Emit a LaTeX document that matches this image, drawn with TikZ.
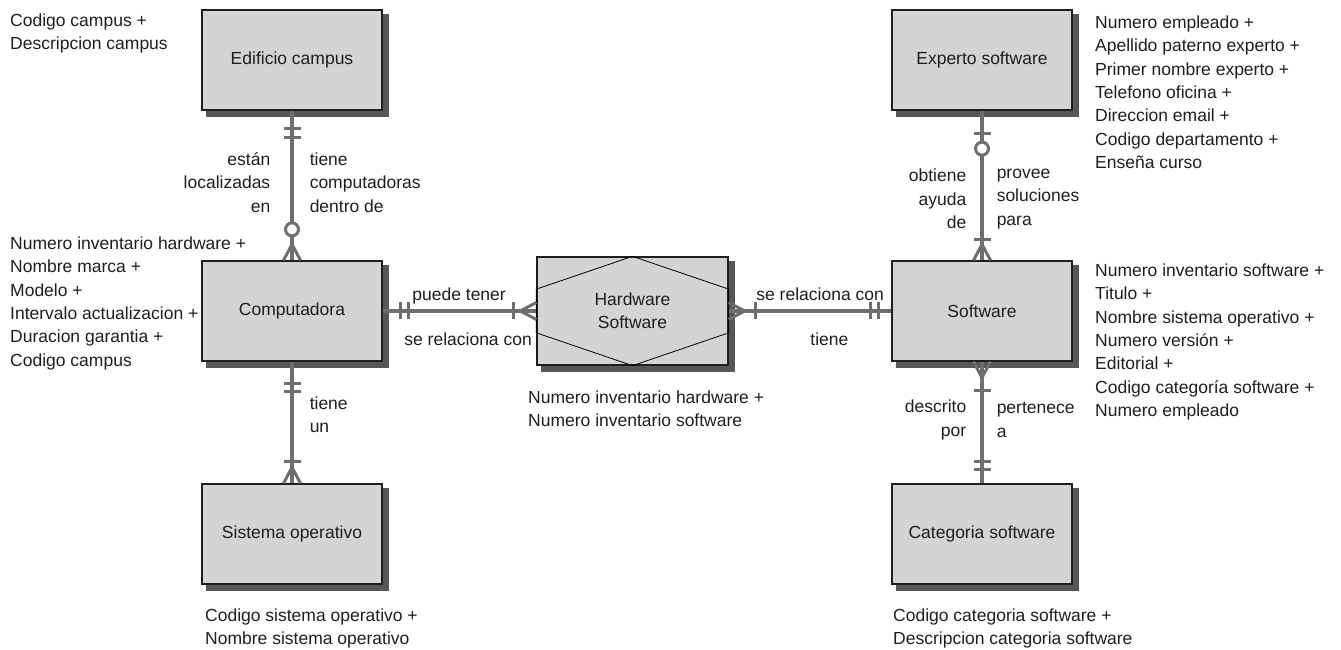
\documentclass[tikz,border=0pt]{standalone}
\usepackage{fontspec}
\setmainfont{Liberation Sans}
\usetikzlibrary{positioning, calc}

\definecolor{linegray}{HTML}{6E6E6E}
\definecolor{boxgray}{HTML}{D4D4D4}
\definecolor{inkgray}{HTML}{1E1E1E}
\definecolor{shadowgray}{HTML}{575757}

\begin{document}
\begin{tikzpicture}[
    x=1pt, y=1pt,
    font=\fontsize{17.5}{23.3}\selectfont,
    every node/.style={text=inkgray},
    entity/.style={
        rectangle,
        minimum width=180pt,
        minimum height=100pt,
        align=center,
        fill=boxgray,
        draw=inkgray,
        line width=1.3pt
    },
    boxshadow/.style={draw=shadowgray, line width=5.5pt},
    attr/.style={align=left, inner sep=0pt, anchor=north west},
    verb/.style={inner sep=0pt},
    rel/.style={draw=linegray, line width=3.5pt},
    sym/.style={draw=linegray, line width=3pt},
    onebar/.pic={\draw[sym] (0,-8.5) -- (0,8.5);},
    ring/.pic={\draw[sym, fill=white] (0,0) circle (6.5);},
    crowfoot/.pic={\draw[sym] (16,8.5) -- (0,0) -- (16,-8.5);}
]
\useasboundingbox (0,0) rectangle (1341,650);

% entities
\node[entity] (edificio) at (292,590) {Edificio campus};
\node[entity] (comp) at (292,339) {Computadora};
\node[entity] (sistop) at (292,116) {Sistema operativo};
\node[entity, minimum width=191pt, minimum height=108pt] (hwsw) at (632.5,339) {Hardware\\Software};
\node[entity] (experto) at (982,590) {Experto software};
\node[entity] (software) at (982,339) {Software};
\node[entity] (categoria) at (982,116) {Categoria software};

% shadows along the right and lower edges
\foreach \n in {edificio, comp, sistop, hwsw, experto, software, categoria}
    \draw[boxshadow] ($(\n.north east)+(3.4,-5)$) -- ($(\n.south east)+(3.4,-3.4)$)
        -- ($(\n.south west)+(5,-3.4)$);

% hexagon of the associative entity
\draw[black, line width=0.8pt]
    (hwsw.north) -- ($(hwsw.north west)!0.3!(hwsw.south west)$)
    -- ($(hwsw.north west)!0.7!(hwsw.south west)$) -- (hwsw.south)
    -- ($(hwsw.north east)!0.7!(hwsw.south east)$)
    -- ($(hwsw.north east)!0.3!(hwsw.south east)$) -- cycle;

% attributes
\node[attr] (edificioattr) at (10,636.3) {Codigo campus +\\Descripcion campus};
\node[attr] (compattr) at (10,413.3) {Numero inventario hardware +\\Nombre marca +\\Modelo +\\Intervalo actualizacion +\\Duracion garantia +\\Codigo campus};
\node[attr] (sistopattr) at (205,41.3) {Codigo sistema operativo +\\Nombre sistema operativo};
\node[attr] (hwswattr) at (528,259.3) {Numero inventario hardware +\\Numero inventario software};
\node[attr] (expertoattr) at (1095,634.3) {Numero empleado +\\Apellido paterno experto +\\Primer nombre experto +\\Telefono oficina +\\Direccion email +\\Codigo departamento +\\Enseña curso};
\node[attr] (softattr) at (1095,386.3) {Numero inventario software +\\Titulo +\\Nombre sistema operativo +\\Numero versión +\\Editorial +\\Codigo categoría software +\\Numero empleado};
\node[attr] (categattr) at (893,41.3) {Codigo categoria software +\\Descripcion categoria software};

% relationships
\draw[rel] (edificio) --
    node[verb, pos=.48, left=20pt, align=right] {están\\localizadas\\en}
    node[verb, pos=.48, right=16pt, align=left] {tiene\\computadoras\\dentro de} (comp);
\draw[rel] (comp) --
    node[verb, pos=.435, right=16pt, align=left] {tiene\\un} (sistop);
\draw[rel] (comp) --
    node[verb, pos=0, anchor=base west, xshift=28pt, yshift=10pt] {puede tener}
    node[verb, pos=0, anchor=base west, xshift=20pt, yshift=-35pt] {se relaciona con} (hwsw);
\draw[rel] (hwsw) --
    node[verb, pos=0, anchor=base west, xshift=26pt, yshift=10pt] {se relaciona con}
    node[verb, pos=0, anchor=base west, xshift=80pt, yshift=-35pt] {tiene} (software);
\draw[rel] (experto) --
    node[verb, pos=.59, left=14pt, align=right] {obtiene\\ayuda\\de}
    node[verb, pos=.59, right=13pt, align=left] {provee\\soluciones\\para} (software);
\draw[rel] (software) --
    node[verb, pos=.48, left=14pt, align=right] {descrito\\por}
    node[verb, pos=.48, right=13pt, align=left] {pertenece\\a} (categoria);

% cardinality marks
\pic[rotate=90] at ($(edificio.south)+(0,-18)$) {onebar};
\pic[rotate=90] at ($(edificio.south)+(0,-27)$) {onebar};
\pic at ($(comp.north)+(0,31)$) {ring};
\pic[rotate=-90] at ($(comp.north)+(0,16)$) {crowfoot};

\pic[rotate=90] at ($(comp.south)+(0,-22)$) {onebar};
\pic[rotate=90] at ($(comp.south)+(0,-30)$) {onebar};
\pic[rotate=90] at ($(sistop.north)+(0,22)$) {onebar};
\pic[rotate=-90] at ($(sistop.north)+(0,16)$) {crowfoot};

\pic at ($(comp.east)+(18,0)$) {onebar};
\pic at ($(comp.east)+(26,0)$) {onebar};
\pic at ($(hwsw.west)+(-23,0)$) {onebar};
\pic at ($(hwsw.west)+(-16,0)$) {crowfoot};

\pic[rotate=180] at ($(hwsw.east)+(16,0)$) {crowfoot};
\pic at ($(hwsw.east)+(27,0)$) {onebar};
\pic at ($(software.west)+(-13,0)$) {onebar};
\pic at ($(software.west)+(-21,0)$) {onebar};

\pic[rotate=90] at ($(experto.south)+(0,-23)$) {onebar};
\pic at ($(experto.south)+(0,-38)$) {ring};
\pic[rotate=90] at ($(software.north)+(0,21)$) {onebar};
\pic[rotate=-90] at ($(software.north)+(0,16)$) {crowfoot};

\pic[rotate=90] at ($(software.south)+(0,-16)$) {crowfoot};
\pic[rotate=90] at ($(software.south)+(0,-29)$) {onebar};
\pic[rotate=90] at ($(categoria.north)+(0,22)$) {onebar};
\pic[rotate=90] at ($(categoria.north)+(0,14)$) {onebar};

\end{tikzpicture}
\end{document}
